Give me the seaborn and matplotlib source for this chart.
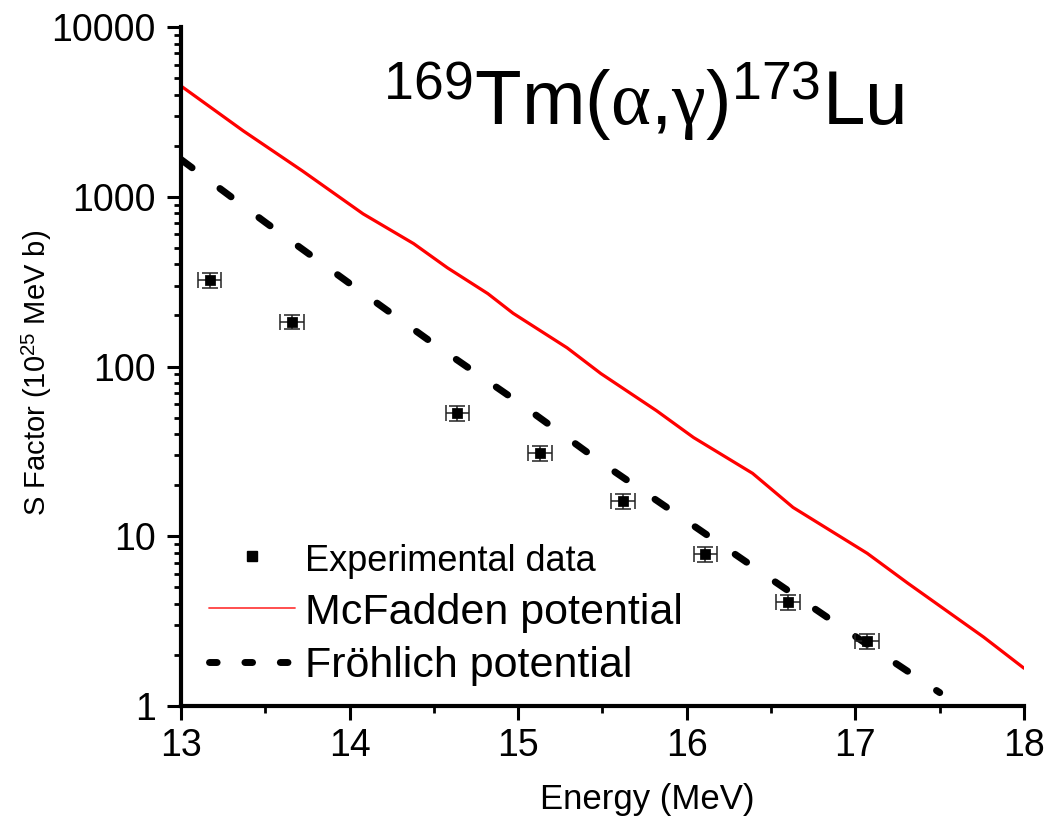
import numpy as np
import pandas as pd
import seaborn as sns
import matplotlib.pyplot as plt
from matplotlib.lines import Line2D
from matplotlib.ticker import LogLocator, NullFormatter, MultipleLocator

# experimental points (energy MeV, S factor 1e25 MeV b)
exp_energy = [13.17, 13.66, 14.64, 15.13, 15.62, 16.11, 16.60, 17.07]
exp_sfactor = [325, 184, 53, 30.8, 16.1, 7.9, 4.1, 2.41]
exp_xerr = [0.07, 0.07, 0.07, 0.07, 0.07, 0.07, 0.07, 0.07]
exp_yerr = [33, 18, 5.3, 3.1, 1.6, 0.8, 0.42, 0.25]

# McFadden potential curve
mcf_energy = [13.0, 13.37, 13.72, 14.08, 14.38, 14.58, 14.82, 14.97, 15.29, 15.49,
              15.82, 16.04, 16.39, 16.63, 17.07, 17.31, 17.76, 18.0]
mcf_sfactor = [4500, 2445, 1422, 794, 530, 382, 269, 206, 129, 91,
               55, 38.2, 23.5, 14.8, 7.94, 5.3, 2.55, 1.67]

# Fröhlich potential curve
fro_energy = [13.0, 13.5, 14.0, 14.5, 15.0, 15.5, 16.0, 16.5, 17.0, 17.5]
fro_sfactor = [1660, 708, 309, 136, 61.7, 26.9, 12.3, 5.6, 2.57, 1.2]

sns.set_style("ticks")
plt.rcParams['font.family'] = ['Liberation Sans', 'DejaVu Sans']
plt.rcParams['mathtext.fontset'] = 'custom'
plt.rcParams['mathtext.rm'] = 'Liberation Sans'
plt.rcParams['mathtext.it'] = 'Liberation Serif'
plt.rcParams['mathtext.bf'] = 'Liberation Sans:bold'
for k in ['text.color', 'axes.labelcolor', 'xtick.color', 'ytick.color', 'axes.edgecolor']:
    plt.rcParams[k] = 'black'

mcf = pd.DataFrame({'energy': mcf_energy, 'S': mcf_sfactor})
fro = pd.DataFrame({'energy': fro_energy, 'S': fro_sfactor})
exp = pd.DataFrame({'energy': exp_energy, 'S': exp_sfactor})

fig = plt.figure(figsize=(10.46, 8.21), dpi=100)
ax = fig.add_axes([0.173, 0.140, 0.806, 0.827])

sns.lineplot(data=mcf, x='energy', y='S', color='red', lw=2.3, ax=ax)
sns.lineplot(data=fro, x='energy', y='S', color='black', lw=5,
             linestyle=(0, (2, 5)), dash_capstyle='round', ax=ax)
ax.errorbar(exp_energy, exp_sfactor, xerr=exp_xerr, yerr=exp_yerr, fmt='none',
            ecolor='#222222', elinewidth=1.1, capsize=5.5, capthick=1.1)
sns.scatterplot(data=exp, x='energy', y='S', marker='s', s=45, color='black',
                edgecolor='black', ax=ax, zorder=5)

ax.set_yscale('log')
ax.set_xlim(13, 18)
ax.set_ylim(1, 10000)
ax.set_yticks([1, 10, 100, 1000, 10000], labels=['1', '10', '100', '1000', '10000'])
ax.yaxis.set_minor_locator(LogLocator(base=10, subs=np.arange(2, 10)))
ax.yaxis.set_minor_formatter(NullFormatter())
ax.set_xticks([13, 14, 15, 16, 17, 18])
ax.xaxis.set_minor_locator(MultipleLocator(0.5))

sns.despine(ax=ax)
for s in ['left', 'bottom']:
    ax.spines[s].set_linewidth(3)
ax.tick_params(which='major', length=10, width=2.2, labelsize=27, direction='out')
ax.tick_params(axis='y', which='major', pad=8)
ax.tick_params(axis='x', which='major', pad=6)
ax.tick_params(which='minor', length=5, width=2, direction='out')

ax.set_xlabel('Energy (MeV)', fontsize=25)
ax.xaxis.set_label_coords(0.553, -0.113)
ax.set_ylabel(r'S Factor (10$^{25}$ MeV b)', fontsize=21)
ax.yaxis.set_label_coords(-0.15, 0.49)

ax.text(0.549, 0.856, r'$^{169}\mathrm{Tm}(\alpha{,}\gamma)^{173}\mathrm{Lu}$',
        transform=ax.transAxes, fontsize=55, ha='center', va='baseline')

handles = [
    Line2D([], [], ls='none', marker='s', markersize=7, color='black'),
    Line2D([], [], color='#ff4040', lw=1.3),
    Line2D([], [], color='black', lw=5, linestyle=(0, (1.1, 4)), dash_capstyle='round'),
]
labels = ['Experimental data', 'McFadden potential', 'Fröhlich potential']
leg = ax.legend(handles, labels, loc='upper left', bbox_to_anchor=(0.033, 0.243),
                frameon=False, fontsize=31, handlelength=2.0, handletextpad=0.23,
                labelspacing=0.31, borderpad=0, borderaxespad=0)
leg.get_texts()[0].set_fontsize(26)

fig.savefig('out.png', dpi=100)
